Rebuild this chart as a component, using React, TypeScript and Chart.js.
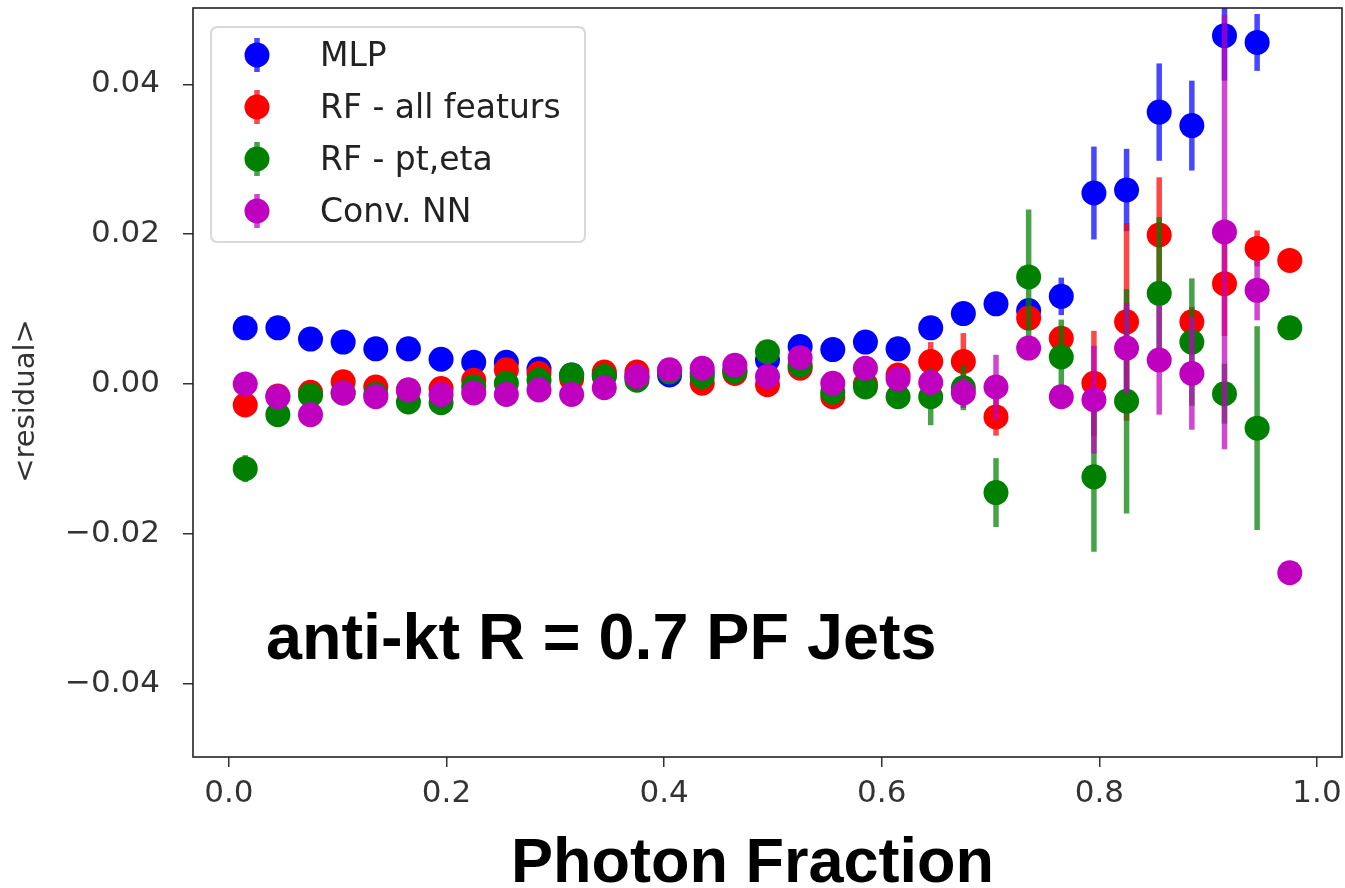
import React, { useEffect, useRef } from 'react';
import { Chart, registerables } from 'chart.js';

Chart.register(...registerables);

// ---------------- data ----------------
const PHOTON_FRACTION = [
  0.015, 0.045, 0.075, 0.105, 0.135, 0.165, 0.195, 0.225, 0.255, 0.285, 0.315,
  0.345, 0.375, 0.405, 0.435, 0.465, 0.495, 0.525, 0.555, 0.585, 0.615, 0.645,
  0.675, 0.705, 0.735, 0.765, 0.795, 0.825, 0.855, 0.885, 0.915, 0.945, 0.975,
];

const MLP = [
  0.0075, 0.0075, 0.006, 0.0056, 0.0047, 0.0047, 0.0033, 0.0029, 0.0029, 0.002, 0.0012,
  0.0012, 0.001, 0.0012, 0.0015, 0.0018, 0.0032, 0.005, 0.0046, 0.0056, 0.0047, 0.0075,
  0.0094, 0.0107, 0.0098, 0.0117, 0.0255, 0.0259, 0.0363, 0.0345, 0.0465, 0.0456, null,
];
const MLP_ERR = [
  0.0004, 0.0004, 0.0004, 0.0004, 0.0004, 0.0004, 0.0004, 0.0004, 0.0004, 0.0004, 0.0004,
  0.0004, 0.0004, 0.0005, 0.0005, 0.0005, 0.0006, 0.0006, 0.0006, 0.0007, 0.0008, 0.0008,
  0.0009, 0.001, 0.0012, 0.0025, 0.0062, 0.0055, 0.0065, 0.006, 0.006, 0.0038, 0,
];

const RF_ALL = [
  -0.0028, -0.0016, -0.0011, 0.0003, -0.0004, -0.0008, -0.0006, 0.0005, 0.0019, 0.0014, 0.0007,
  0.0016, 0.0016, 0.0018, 0.0001, 0.0014, -0.0001, 0.0021, -0.0017, 0.0, 0.0012, 0.003,
  0.003, -0.0044, 0.0088, 0.0061, 0.0001, 0.0083, 0.0199, 0.0083, 0.0134, 0.0181, 0.0165,
];
const RF_ALL_ERR = [
  0.0004, 0.0004, 0.0004, 0.0004, 0.0004, 0.0004, 0.0004, 0.0004, 0.0004, 0.0004, 0.0004,
  0.0004, 0.0004, 0.0005, 0.0005, 0.0005, 0.0006, 0.0006, 0.0008, 0.0008, 0.001, 0.0026,
  0.0038, 0.0025, 0.0015, 0.0012, 0.007, 0.0132, 0.0077, 0.002, 0.007, 0.0024, 0,
];

const RF_PT_ETA = [
  -0.0113, -0.0041, -0.0015, -0.0012, -0.0014, -0.0024, -0.0025, -0.0004, 0.0001, 0.0005, 0.0012,
  0.001, 0.0005, 0.0016, 0.001, 0.0017, 0.0043, 0.0025, -0.0011, -0.0004, -0.0017, -0.0017,
  -0.0005, -0.0145, 0.0143, 0.0036, -0.0124, -0.0023, 0.0121, 0.0056, -0.0013, -0.0059, 0.0075,
];
const RF_PT_ETA_ERR = [
  0.0018, 0.0005, 0.0005, 0.0005, 0.0005, 0.0005, 0.0005, 0.0005, 0.0005, 0.0005, 0.0005,
  0.0005, 0.0005, 0.0005, 0.0006, 0.0006, 0.0008, 0.0008, 0.001, 0.001, 0.0012, 0.0038,
  0.003, 0.0046, 0.009, 0.005, 0.01, 0.015, 0.0102, 0.0085, 0.004, 0.0136, 0,
];

const CONV_NN = [
  0.0, -0.0017, -0.0041, -0.0012, -0.0017, -0.0008, -0.0014, -0.0012, -0.0014, -0.0008, -0.0014,
  -0.0005, 0.001, 0.0019, 0.0021, 0.0025, 0.001, 0.0035, 0.0001, 0.0021, 0.0007, 0.0002,
  -0.0012, -0.0004, 0.0048, -0.0017, -0.0021, 0.0048, 0.0032, 0.0014, 0.0203, 0.0125, -0.0252,
];
const CONV_NN_ERR = [
  0.0004, 0.0004, 0.0004, 0.0004, 0.0004, 0.0004, 0.0004, 0.0004, 0.0004, 0.0004, 0.0004,
  0.0004, 0.0004, 0.0005, 0.0005, 0.0005, 0.0006, 0.0006, 0.0008, 0.0008, 0.001, 0.0015,
  0.002, 0.0043, 0.0015, 0.0013, 0.0072, 0.006, 0.0073, 0.0075, 0.029, 0.004, 0,
];

const SERIES_NAMES = ['MLP', 'RF - all featurs', 'RF - pt,eta', 'Conv. NN'];
const X_TICKS = [0.0, 0.2, 0.4, 0.6, 0.8, 1.0];
const Y_TICKS = [-0.04, -0.02, 0.0, 0.02, 0.04];
const X_TITLE = 'Photon Fraction';
const Y_TITLE = '<residual>';
const ANNOTATION = 'anti-kt R = 0.7 PF Jets';

// ---------------- styles ----------------
const COLORS = ['#0000ff', '#ff0000', '#008000', '#bf00bf'];
const ERR_COLORS = ['rgba(0,0,255,0.72)', 'rgba(255,0,0,0.72)', 'rgba(0,128,0,0.72)', 'rgba(191,0,191,0.72)'];
const MARKER_R = 12.5;
const ERR_W = 5.5;
const TICK_FONT = 'DejaVu Sans';

const errorBarPlugin = {
  id: 'errorBars',
  beforeDatasetDraw(chart: any, args: any) {
    const ds = chart.data.datasets[args.index];
    const errs: number[] = ds.errors || [];
    const { ctx, chartArea, scales } = chart;
    ctx.save();
    ctx.beginPath();
    ctx.rect(chartArea.left, chartArea.top, chartArea.right - chartArea.left, chartArea.bottom - chartArea.top);
    ctx.clip();
    ctx.strokeStyle = ds.errColor;
    ctx.lineWidth = ERR_W;
    ds.data.forEach((p: any, i: number) => {
      const e = errs[i];
      if (p.y === null || p.y === undefined || !e) return;
      const px = scales.x.getPixelForValue(p.x);
      const y0 = scales.y.getPixelForValue(p.y - e);
      const y1 = scales.y.getPixelForValue(p.y + e);
      ctx.beginPath();
      ctx.moveTo(px, y0);
      ctx.lineTo(px, y1);
      ctx.stroke();
    });
    ctx.restore();
  },
};

const framePlugin = {
  id: 'frameAndText',
  afterDatasetsDraw(chart: any) {
    const { ctx, chartArea } = chart;
    ctx.save();
    ctx.strokeStyle = '#222';
    ctx.lineWidth = 1.6;
    ctx.strokeRect(chartArea.left, chartArea.top, chartArea.right - chartArea.left, chartArea.bottom - chartArea.top);
    ctx.restore();
  },
  afterDraw(chart: any) {
    const { ctx } = chart;
    ctx.save();
    // annotation
    ctx.fillStyle = '#000';
    ctx.font = 'bold 64.7px "Liberation Sans", Arial, sans-serif';
    ctx.textAlign = 'left';
    ctx.textBaseline = 'alphabetic';
    ctx.fillText(ANNOTATION, 266, 659);
    // x title
    ctx.font = 'bold 63px "Liberation Sans", Arial, sans-serif';
    ctx.fillText(X_TITLE, 511, 882);
    // y title
    ctx.save();
    ctx.translate(26, 401);
    ctx.rotate(-Math.PI / 2);
    ctx.font = '29px "DejaVu Sans", sans-serif';
    ctx.fillStyle = '#333';
    ctx.textAlign = 'center';
    ctx.textBaseline = 'middle';
    ctx.fillText(Y_TITLE, 0, 0);
    ctx.restore();

    // legend
    const bx = 211, by = 27, bw = 374, bh = 215, r = 7;
    ctx.beginPath();
    ctx.moveTo(bx + r, by);
    ctx.lineTo(bx + bw - r, by);
    ctx.quadraticCurveTo(bx + bw, by, bx + bw, by + r);
    ctx.lineTo(bx + bw, by + bh - r);
    ctx.quadraticCurveTo(bx + bw, by + bh, bx + bw - r, by + bh);
    ctx.lineTo(bx + r, by + bh);
    ctx.quadraticCurveTo(bx, by + bh, bx, by + bh - r);
    ctx.lineTo(bx, by + r);
    ctx.quadraticCurveTo(bx, by, bx + r, by);
    ctx.closePath();
    ctx.fillStyle = 'rgba(255,255,255,0.85)';
    ctx.fill();
    ctx.strokeStyle = '#d8d8d8';
    ctx.lineWidth = 2;
    ctx.stroke();

    SERIES_NAMES.forEach((name, i) => {
      const cy = 55 + i * 52;
      const mx = 257;
      ctx.strokeStyle = ERR_COLORS[i];
      ctx.lineWidth = ERR_W;
      ctx.beginPath();
      ctx.moveTo(mx, cy - 17);
      ctx.lineTo(mx, cy + 17);
      ctx.stroke();
      ctx.fillStyle = COLORS[i];
      ctx.beginPath();
      ctx.arc(mx, cy, MARKER_R, 0, Math.PI * 2);
      ctx.fill();
      ctx.fillStyle = '#222';
      ctx.font = '33px "DejaVu Sans", sans-serif';
      ctx.textAlign = 'left';
      ctx.textBaseline = 'middle';
      ctx.fillText(name, 320, cy + 2);
    });
    ctx.restore();
  },
};

function makeDataset(label: string, ys: (number | null)[], errs: number[], idx: number) {
  return {
    label,
    data: PHOTON_FRACTION.map((x, i) => ({ x, y: ys[i] })),
    errors: errs,
    errColor: ERR_COLORS[idx],
    backgroundColor: COLORS[idx],
    borderColor: COLORS[idx],
    pointRadius: MARKER_R,
    pointHoverRadius: MARKER_R,
    pointBorderWidth: 0,
    showLine: false,
    order: 3 - idx,
  };
}

export default function App() {
  const ref = useRef<HTMLCanvasElement>(null);
  useEffect(() => {
    if (!ref.current) return;
    const chart = new Chart(ref.current, {
      type: 'scatter',
      data: {
        datasets: [
          makeDataset(SERIES_NAMES[0], MLP, MLP_ERR, 0),
          makeDataset(SERIES_NAMES[1], RF_ALL, RF_ALL_ERR, 1),
          makeDataset(SERIES_NAMES[2], RF_PT_ETA, RF_PT_ETA_ERR, 2),
          makeDataset(SERIES_NAMES[3], CONV_NN, CONV_NN_ERR, 3),
        ] as any,
      },
      options: {
        animation: false,
        responsive: true,
        maintainAspectRatio: false,
        events: [],
        layout: { autoPadding: false, padding: { top: 8, right: 3, left: 0, bottom: 0 } },
        plugins: { legend: { display: false }, tooltip: { enabled: false } },
        scales: {
          x: {
            type: 'linear',
            min: -0.033,
            max: 1.023,
            afterBuildTicks: (s: any) => {
              s.ticks = X_TICKS.map((v) => ({ value: v }));
            },
            afterFit: (s: any) => {
              s.height = 131;
              s.paddingLeft = 0;
              s.paddingRight = 0;
              s.paddingTop = 0;
              s.paddingBottom = 0;
            },
            grid: { display: true, drawOnChartArea: false, drawTicks: true, tickLength: 10, color: '#333', lineWidth: 1.5 },
            border: { display: false },
            ticks: {
              font: { family: TICK_FONT, size: 31 },
              color: '#333',
              padding: 8,
              maxRotation: 0,
              autoSkip: false,
              callback: (v: any) => Number(v).toFixed(1),
            },
          },
          y: {
            type: 'linear',
            min: -0.0498,
            max: 0.0502,
            afterBuildTicks: (s: any) => {
              s.ticks = Y_TICKS.map((v) => ({ value: v }));
            },
            afterFit: (s: any) => {
              s.width = 193;
              s.paddingLeft = 0;
              s.paddingRight = 0;
              s.paddingTop = 0;
              s.paddingBottom = 0;
            },
            grid: { display: true, drawOnChartArea: false, drawTicks: true, tickLength: 10, color: '#333', lineWidth: 1.5 },
            border: { display: false },
            ticks: {
              font: { family: TICK_FONT, size: 31 },
              color: '#333',
              padding: 23,
              autoSkip: false,
              callback: (v: any) => {
                const n = Number(v);
                const s = Math.abs(n) < 1e-9 ? '0.00' : n.toFixed(2);
                return s.replace('-', '\u2212');
              },
            },
          },
        },
      },
      plugins: [errorBarPlugin, framePlugin],
    });
    return () => chart.destroy();
  }, []);
  return (
    <div style={{ position: 'fixed', left: 0, top: 0, width: 1345, height: 888, background: '#fff' }}>
      <canvas ref={ref} />
    </div>
  );
}
